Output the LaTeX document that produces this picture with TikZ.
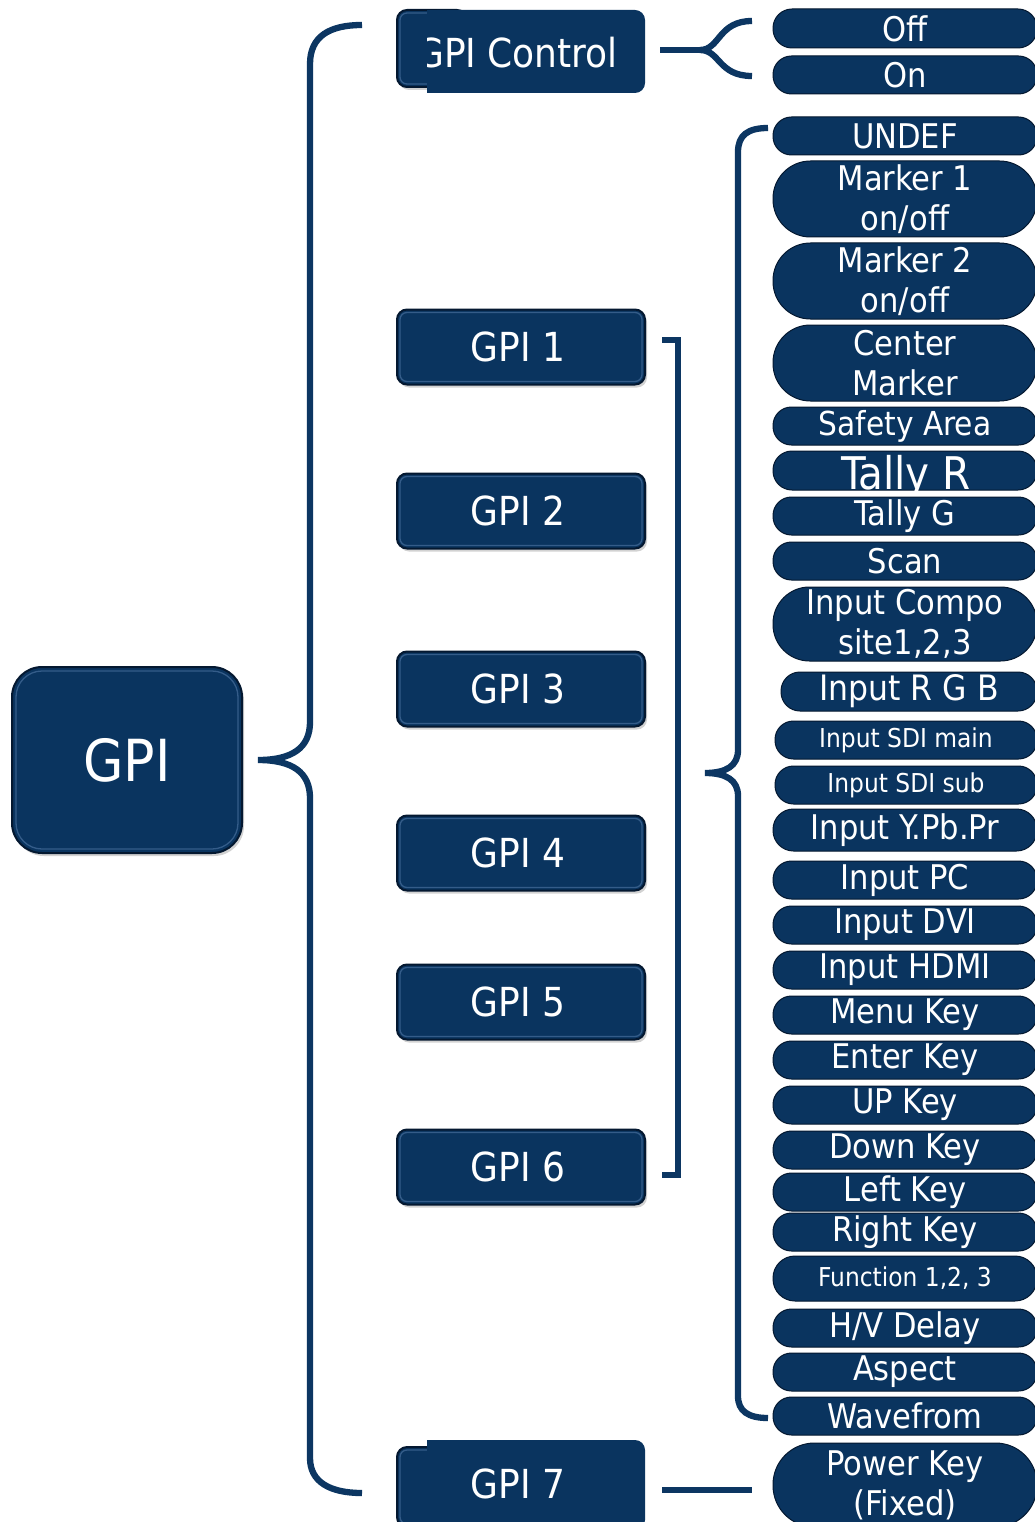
\documentclass[tikz,border=0pt]{standalone}
\usepackage{fontspec}
\setmainfont{DejaVu Sans Condensed}
\usetikzlibrary{shadows}
\definecolor{navy}{RGB}{10,52,95}
\definecolor{navydark}{RGB}{4,24,48}
\definecolor{navylight}{RGB}{70,110,155}
\definecolor{linec}{RGB}{12,54,98}
\tikzset{
  pill/.style={fill=navy, draw=navydark, line width=1pt, text=white, inner sep=0pt, align=center},
  gbox/.style={fill=navy, draw=navydark, line width=2pt, text=white, inner sep=0pt,
    rounded corners=10pt, minimum width=248, minimum height=75,
    font=\fontsize{40}{44}\selectfont,
    drop shadow={opacity=0.35, shadow xshift=2pt, shadow yshift=-3pt}},
  link/.style={draw=linec, line width=6.3pt},
  bevel/.style={draw=navylight, line width=1.3pt, opacity=0.7},
}
\newcommand\pill[6]{%
  \node[pill, minimum width={1037-#4}, minimum height={#3-#2},
    rounded corners={(#3-#2)/2-0.5},
    font=\fontsize{#5}{40}\selectfont] (#1) at ({(1037+#4)/2},{(#2+#3)/2+1}) {#6};}
\newcommand\bevelbox[1]{%
  \draw[bevel, rounded corners=7pt] ([shift={(4,4)}]#1.north west) rectangle ([shift={(-4,-4)}]#1.south east);}
\begin{document}
\begin{tikzpicture}[x=1pt,y=-1pt]
\useasboundingbox (0,0) rectangle (1035,1522);
\fill[white] (0,0) rectangle (1035,1522);

% main GPI box
\node[gbox, minimum width=230, minimum height=186, rounded corners=30pt,
  font=\fontsize{58}{60}\selectfont] (gpi) at (127,760) {GPI};
\draw[bevel, rounded corners=26pt] ([shift={(5,5)}]gpi.north west) rectangle ([shift={(-5,-5)}]gpi.south east);

% GPI 1..6
\node[gbox] (g1) at (521,347) {\hspace*{-6pt}GPI 1};  \bevelbox{g1}
\node[gbox] (g2) at (521,511) {\hspace*{-6pt}GPI 2};  \bevelbox{g2}
\node[gbox] (g3) at (521,689) {\hspace*{-6pt}GPI 3};  \bevelbox{g3}
\node[gbox] (g4) at (521,853) {\hspace*{-6pt}GPI 4};  \bevelbox{g4}
\node[gbox] (g5) at (521,1002) {\hspace*{-6pt}GPI 5}; \bevelbox{g5}
\node[gbox] (g6) at (521,1167) {\hspace*{-6pt}GPI 6}; \bevelbox{g6}

% GPI Control (stepped box)
\node[gbox, minimum width=70, minimum height=77] (ctrlL) at (432,48.5) {};
\bevelbox{ctrlL}
\fill[navy, rounded corners=10pt] (427,10) rectangle (645,93);
\fill[navy] (427,10) rectangle (450,93);
\node[inner sep=0pt, minimum width=218, minimum height=83] (ctrlbox) at (536,51.5) {};
\begin{scope}
  \clip (427,0) rectangle (650,100);
  \node[text=white, inner sep=0pt, font=\fontsize{40}{44}\selectfont] (ctrltxt) at (517,53) {GPI Control};
\end{scope}

% GPI 7 (stepped box)
\node[gbox, minimum width=70, minimum height=80] (g7L) at (432,1487) {};
\bevelbox{g7L}
\fill[navy, rounded corners=10pt] (427,1440) rectangle (645,1530);
\fill[navy] (427,1440) rectangle (450,1530);
\node[inner sep=0pt, minimum width=218, minimum height=82] (g7) at (536,1481) {};
\node[text=white, inner sep=0pt, font=\fontsize{40}{44}\selectfont] (g7txt) at (518,1484) {GPI 7};

% right column pills
\pill{off}{8}{47}{773}{34}{Off}
\pill{on}{55}{93}{773}{34}{On}
\pill{undef}{116}{154}{773}{34}{UNDEF}
\pill{m1}{160}{236}{773}{34}{Marker 1\\on/off}
\pill{m2}{242}{318}{773}{34}{Marker 2\\on/off}
\pill{cm}{324}{400}{773}{34}{Center\\Marker}
\pill{safety}{406}{444}{773}{33}{Safety Area}
\node[pill, minimum width=264, minimum height=39, rounded corners=19pt] (tallyr) at (905,470.5) {};
\node[text=white, inner sep=0pt, text depth=0pt, font=\fontsize{45}{48}\selectfont] (tallyrt) at (906,472) {Tally R};
\pill{tallyg}{496}{534}{773}{34}{Tally G}
\pill{scan}{541}{579}{773}{34}{Scan}
\pill{comp}{586}{660}{773}{34}{Input Compo\\site1,2,3}
\pill{rgb}{671}{710}{781}{35}{Input R G B}
\pill{sdim}{720}{758}{775}{26}{Input SDI main}
\pill{sdis}{765}{803}{775}{26}{Input SDI sub}
\pill{ypbpr}{808}{850}{773}{34}{Input Y.Pb.Pr}
\pill{pc}{860}{898}{773}{34}{Input PC}
\pill{dvi}{905}{943}{773}{34}{Input DVI}
\pill{hdmi}{950}{988}{773}{34}{Input HDMI}
\pill{menu}{995}{1033}{773}{34}{Menu Key}
\pill{enter}{1040}{1078}{773}{34}{Enter Key}
\pill{up}{1085}{1123}{773}{34}{UP Key}
\pill{down}{1130}{1168}{773}{34}{Down Key}
\pill{left}{1172}{1210}{773}{34}{Left Key}
\pill{right}{1212}{1250}{773}{34}{Right Key}
\pill{func}{1255}{1300}{773}{26}{Function 1,2, 3}
\pill{hv}{1308}{1346}{773}{34}{H/V Delay}
\pill{aspect}{1352}{1390}{773}{34}{Aspect}
\pill{wave}{1396}{1434}{773}{34}{Wavefrom}
\pill{power}{1442}{1526}{773}{34}{Power Key\\(Fixed)}

% connector coordinates
\coordinate (lbT) at (362,25);
\coordinate (lbTip) at (258,760);
\coordinate (lbB) at (362,1493);
\coordinate (rbT) at (768,128);
\coordinate (rbTip) at (705,773);
\coordinate (rbB) at (768,1418);
\coordinate (cbStem) at (660,50);
\coordinate (cbMid) at (700,50);
\coordinate (cbT) at (752,21);
\coordinate (cbB) at (752,76);
\coordinate (sqT) at (662,340);
\coordinate (sqB) at (662,1175);
\coordinate (p7a) at (662,1490);
\coordinate (p7b) at (752,1490);

% big left brace
\draw[link] (lbT) .. controls (330,25) and (310,36) .. (310,64)
  -- (310,722) .. controls (310,748) and (292,760) .. (lbTip)
  .. controls (292,760) and (310,772) .. (310,798)
  -- (310,1458) .. controls (310,1482) and (330,1493) .. (lbB);

% big right brace
\draw[link] (rbT) .. controls (748,128) and (738,135) .. (738,152)
  -- (738,750) .. controls (738,766) and (726,773) .. (rbTip)
  .. controls (726,773) and (738,780) .. (738,796)
  -- (738,1396) .. controls (738,1411) and (748,1418) .. (rbB);

% GPI Control to Off/On
\draw[link] (cbStem) -- (cbMid);
\draw[link] (cbT) .. controls (718,21) and (720,50) .. (cbMid)
  .. controls (720,50) and (718,76) .. (cbB);

% bracket for GPI 1..6
\draw[link, miter limit=10] (sqT) -- (678,340) -- (678,1175) -- (sqB);

% GPI 7 to Power Key
\draw[link] (p7a) -- (p7b);
\end{tikzpicture}
\end{document}
